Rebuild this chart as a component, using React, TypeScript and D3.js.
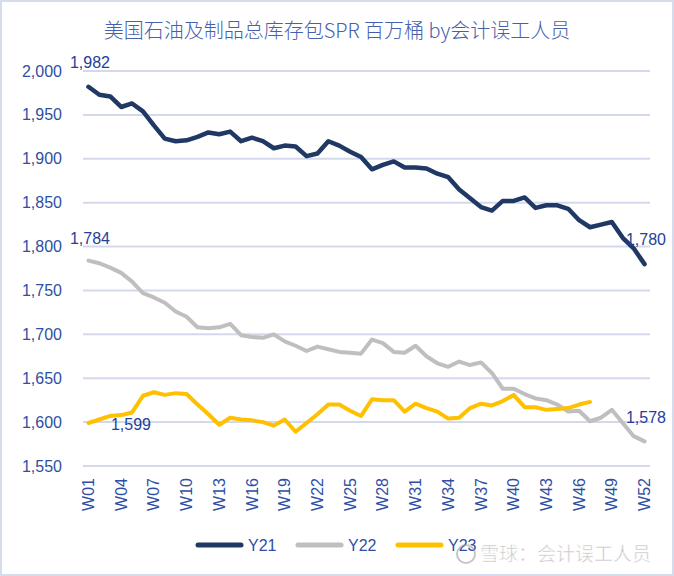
import React from "react";
import * as d3 from "d3";

const weeks: string[] = Array.from({ length: 52 }, (_, i) => "W" + String(i + 1).padStart(2, "0"));

const y21: number[] = [1982,1973,1971,1959,1963,1954,1938,1923,1920,1921,1925,1930,1928,1931,1920,1924,1920,1912,1915,1914,1903,1906,1920,1915,1908,1902,1888,1893,1897,1890,1890,1889,1883,1879,1865,1855,1845,1841,1852,1852,1856,1844,1847,1847,1843,1830,1822,1825,1828,1810,1798,1780];
const y22: number[] = [1784,1781,1776,1770,1760,1747,1742,1736,1726,1720,1708,1707,1708,1712,1699,1697,1696,1700,1692,1687,1681,1686,1683,1680,1679,1678,1694,1690,1680,1679,1687,1675,1667,1663,1669,1665,1668,1656,1638,1638,1632,1627,1625,1620,1612,1613,1601,1605,1614,1599,1584,1578];
const y23: number[] = [1599,1603,1607,1608,1611,1630,1634,1631,1633,1632,1620,1609,1597,1605,1603,1602,1600,1596,1603,1589,1599,1609,1620,1620,1613,1607,1626,1625,1625,1612,1621,1616,1612,1604,1605,1616,1621,1619,1624,1631,1617,1617,1614,1615,1616,1620,1623];

const yTicks: number[] = [1550,1600,1650,1700,1750,1800,1850,1900,1950,2000];
const seriesNames: string[] = ["Y21", "Y22", "Y23"];
const seriesColors: string[] = ["#203864", "#BFBFBF", "#FFC000"];
const title = "美国石油及制品总库存包SPR 百万桶 by会计误工人员";

const W = 674, H = 576;
const FONT = "'Liberation Sans', Arial, sans-serif";

export default function App() {
  const x = d3.scaleBand<string>().domain(weeks).range([83, 650]).padding(0);
  const cx = (i: number) => (x(weeks[i]) as number) + x.bandwidth() / 2;
  const y = d3.scaleLinear().domain([1550, 2000]).range([466, 71]);
  const fmt = d3.format(",");
  const line = d3.line<number>().x((_, i) => cx(i)).y((d) => y(d)).curve(d3.curveLinear);
  const data = [y21, y22, y23];
  const widths = [4.5, 4, 4];
  const labelColor = "#23409A";
  const tickColor = "#2E4FA4";

  const legendX = [198, 298, 398];

  return (
    <svg width={W} height={H} style={{ position: "absolute", left: 0, top: 0, background: "#fff" }} fontFamily={FONT}>
      <rect x={1} y={1} width={W - 2} height={H - 2} fill="#fff" stroke="#D6DCEC" strokeWidth={2} />
      <text x={337} y={38} textAnchor="middle" fontSize={20} fontWeight={300} fill="#4560AE" fontFamily="'Noto Sans CJK SC', 'Liberation Sans', sans-serif">{title}</text>
      {yTicks.map((t) => (
        <g key={t}>
          <line x1={83} x2={650} y1={y(t)} y2={y(t)} stroke="#D3D8EC" strokeWidth={2} />
          <text x={62} y={y(t)} dy="0.35em" textAnchor="end" fontSize={16} fill={tickColor}>{fmt(t)}</text>
        </g>
      ))}
      {weeks.map((w, i) => (i % 3 === 0 ? (
        <text key={w} transform={`translate(${cx(i)},478) rotate(-90)`} textAnchor="end" dy="0.35em" fontSize={16} fill={tickColor}>{w}</text>
      ) : null))}
      {data.map((d, k) => (
        <path key={k} d={line(d) || ""} fill="none" stroke={seriesColors[k]} strokeWidth={widths[k]} strokeLinejoin="round" strokeLinecap="round" />
      ))}
      <text x={90} y={62} dy="0.35em" textAnchor="middle" fontSize={16} fill={labelColor}>{fmt(y21[0])}</text>
      <text x={90} y={238} dy="0.35em" textAnchor="middle" fontSize={16} fill={labelColor}>{fmt(y22[0])}</text>
      <text x={131} y={424} dy="0.35em" textAnchor="middle" fontSize={16} fill={labelColor}>{fmt(y23[0])}</text>
      <text x={646} y={239} dy="0.35em" textAnchor="middle" fontSize={16} fill={labelColor}>{fmt(y21[51])}</text>
      <text x={646} y={417} dy="0.35em" textAnchor="middle" fontSize={16} fill={labelColor}>{fmt(y22[51])}</text>
      {seriesNames.map((n, k) => (
        <g key={n}>
          <line x1={legendX[k]} x2={legendX[k] + 43} y1={545} y2={545} stroke={seriesColors[k]} strokeWidth={5} strokeLinecap="round" />
          <text x={legendX[k] + 50} y={545} dy="0.35em" fontSize={16} fill={tickColor}>{n}</text>
        </g>
      ))}
      <g opacity={0.55}>
        <circle cx={466} cy={554} r={9} fill="none" stroke="#999" strokeWidth={2} />
        <text x={480} y={554} dy="0.35em" fontSize={19} fill="#999" stroke="#fff" strokeWidth={0.5} fontFamily="'Noto Sans CJK SC', sans-serif">雪球：会计误工人员</text>
      </g>
    </svg>
  );
}
